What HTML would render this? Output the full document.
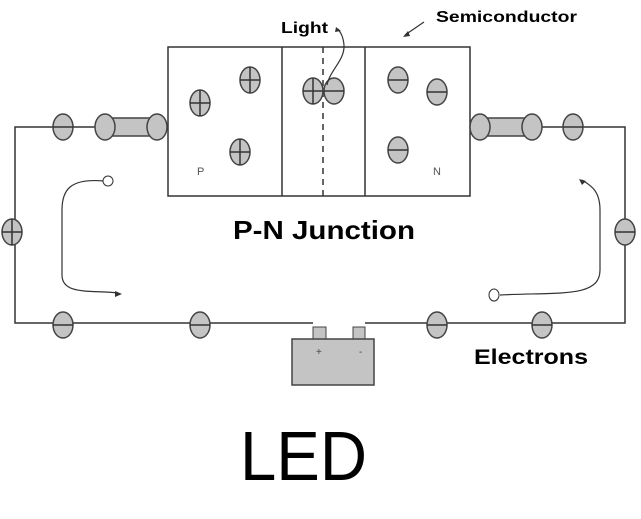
<html><body style="margin:0;background:#fff">
<svg width="641" height="519" viewBox="0 0 641 519" xmlns="http://www.w3.org/2000/svg" font-family="Liberation Sans, DejaVu Sans, sans-serif">
<defs>
<g id="pl"><ellipse rx="10" ry="13" fill="#c4c4c4" stroke="#444" stroke-width="1.5"/><line x1="-10" y1="0" x2="10" y2="0" stroke="#333" stroke-width="1.5"/><line x1="0" y1="-13" x2="0" y2="13" stroke="#333" stroke-width="1.5"/></g>
<g id="mi"><ellipse rx="10" ry="13" fill="#c4c4c4" stroke="#444" stroke-width="1.5"/><line x1="-10" y1="0" x2="10" y2="0" stroke="#333" stroke-width="1.5"/></g>
<g id="wc"><ellipse rx="10" ry="13" fill="#c4c4c4" stroke="#444" stroke-width="1.5"/></g>
</defs>
<g stroke="#333" stroke-width="1.5" fill="none">
<polyline points="168,127 15,127 15,323 313,323"/>
<polyline points="470,127 625,127 625,323 365,323"/>
<rect x="168" y="47" width="302" height="149" fill="#fff"/>
<line x1="282" y1="47" x2="282" y2="196"/>
<line x1="365" y1="47" x2="365" y2="196"/>
<line x1="323" y1="47" x2="323" y2="196" stroke-dasharray="6,5"/>
</g>
<rect x="105" y="118" width="52" height="18" fill="#c4c4c4" stroke="#444" stroke-width="1.5"/>
<rect x="479" y="118" width="52" height="18" fill="#c4c4c4" stroke="#444" stroke-width="1.5"/>
<use href="#wc" x="105" y="127"/><use href="#wc" x="157" y="127"/>
<use href="#wc" x="480" y="127"/><use href="#wc" x="532" y="127"/>
<use href="#mi" x="63" y="127"/><use href="#mi" x="573" y="127"/>
<use href="#pl" x="12" y="232"/><use href="#mi" x="625" y="232"/>
<use href="#mi" x="63" y="325"/><use href="#mi" x="200" y="325"/>
<use href="#mi" x="437" y="325"/><use href="#mi" x="542" y="325"/>
<use href="#pl" x="200" y="103"/><use href="#pl" x="250" y="80"/><use href="#pl" x="240" y="152"/>
<use href="#pl" x="313" y="91"/><use href="#mi" x="334" y="91"/>
<use href="#mi" x="398" y="80"/><use href="#mi" x="437" y="92"/><use href="#mi" x="398" y="150"/>
<text x="197" y="175" font-size="11" fill="#555">P</text>
<text x="433" y="175" font-size="11" fill="#555">N</text>
<rect x="313" y="327" width="13" height="13" fill="#c4c4c4" stroke="#444"/>
<rect x="353" y="327" width="12" height="13" fill="#c4c4c4" stroke="#444"/>
<rect x="292" y="339" width="82" height="46" fill="#c4c4c4" stroke="#444" stroke-width="1.5"/>
<text x="316" y="355" font-size="10" fill="#444">+</text><text x="359" y="355" font-size="10" fill="#444">-</text>
<g stroke="#333" stroke-width="1.2" fill="none">
<path d="M104,181 C70,178 62,190 62,210 L62,275 C62,295 90,290 118,293"/>
<path d="M500,295 C560,292 600,298 600,270 L600,210 C600,190 590,185 582,180"/>
<path d="M327,85 C330,70 345,60 344,45 C343,35 340,32 338,29"/>
<path d="M424,22 L405,35"/>
</g>
<circle cx="108" cy="181" r="5" fill="#fff" stroke="#333"/>
<ellipse cx="494" cy="295" rx="5" ry="6" fill="#fff" stroke="#333"/>
<path d="M122,294 L115,291 L115,297 Z" fill="#333"/>
<path d="M579,179 L586,181 L582,185 Z" fill="#333"/>
<path d="M336,27 L341,31 L335,32 Z" fill="#333"/>
<path d="M403,37 L408,31 L410,36 Z" fill="#333"/>
<text x="281" y="33" font-size="16" font-weight="bold" textLength="47" lengthAdjust="spacingAndGlyphs">Light</text>
<text x="436" y="22" font-size="16" font-weight="bold" textLength="141" lengthAdjust="spacingAndGlyphs">Semiconductor</text>
<text x="233" y="239" font-size="26" font-weight="bold" textLength="182" lengthAdjust="spacingAndGlyphs">P-N Junction</text>
<text x="474" y="364" font-size="21" font-weight="bold" textLength="114" lengthAdjust="spacingAndGlyphs">Electrons</text>
<text x="240" y="480" font-size="70" textLength="127" lengthAdjust="spacingAndGlyphs">LED</text>
</svg>
</body></html>
